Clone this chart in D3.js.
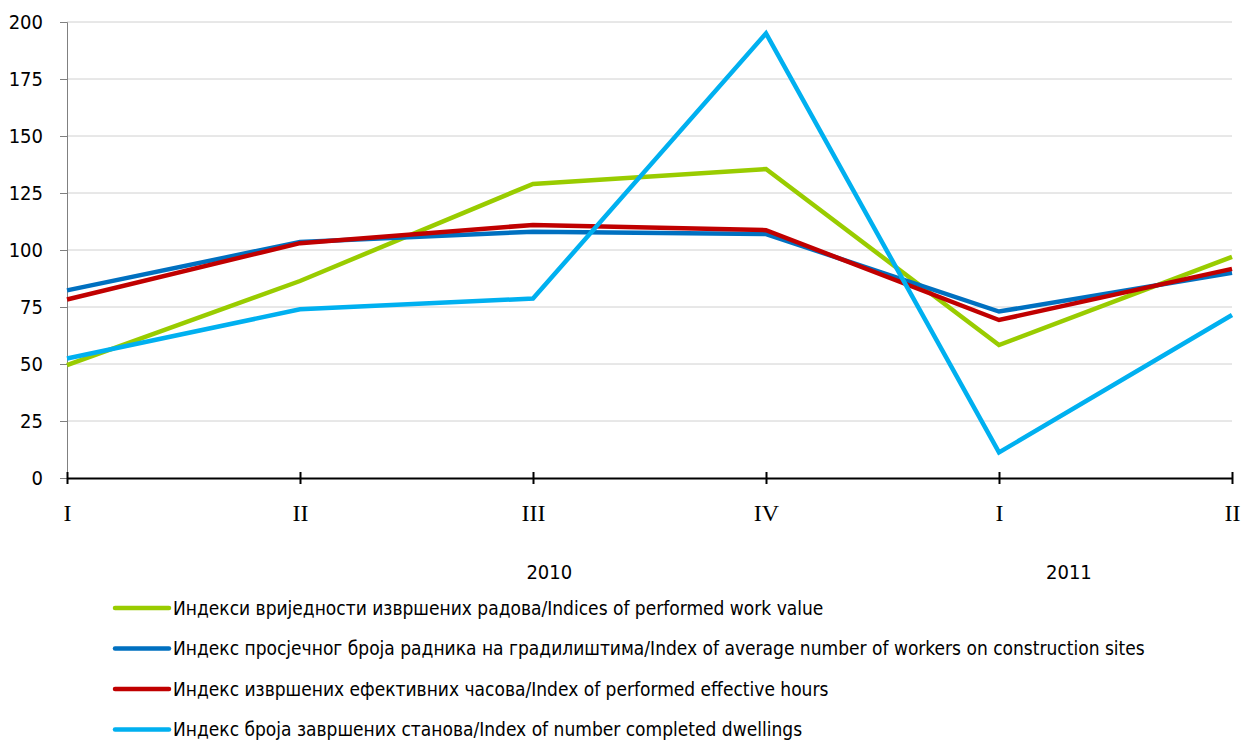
<!DOCTYPE html>
<html><head><meta charset="utf-8">
<script src="https://cdn.jsdelivr.net/npm/d3@7"></script>
<style>body{margin:0;background:#fff}svg{display:block}text{font-family:"DejaVu Sans Condensed","DejaVu Sans",sans-serif;fill:#000}</style>
</head><body>
<svg id="c" width="1246" height="740"></svg>
<script>
const categories = ["I","II","III","IV","I","II"];
const yearLabels = ["2010","2011"];
const yearPos = [2.07, 4.3];
const yTicks = [0,25,50,75,100,125,150,175,200];
const workValue = [49.5, 86.4, 129, 135.5, 58.3, 97];
const workers = [82.3, 103.5, 108, 107, 73, 90];
const hours = [78.3, 103, 111, 108.7, 69.3, 91.7];
const dwellings = [52.4, 74, 78.7, 195, 11.2, 71.5];
const seriesNames = [
 "Индекси вриједности извршених радова/Indices of performed work value",
 "Индекс просјечног броја радника на градилиштима/Index of average number of workers on construction sites",
 "Индекс извршених ефективних часова/Index of performed effective hours",
 "Индекс броја завршених станова/Index of number completed dwellings"
];
const colors = ["#99cc00","#0070c0","#c00000","#00b0f0"];
const series = [workValue, workers, hours, dwellings];

const svg = d3.select("#c");
const L=67, R=1232, T=22, B=478;
const x = d3.scalePoint().domain(d3.range(categories.length)).range([L,R]);
const xl = d3.scaleLinear().domain([0,categories.length-1]).range([L,R]);
const y = d3.scaleLinear().domain([0,200]).range([B,T]);

// gridlines
svg.append("g").selectAll("line").data(yTicks.filter(d=>d>0)).join("line")
 .attr("x1",L).attr("x2",R).attr("y1",d=>y(d)).attr("y2",d=>y(d))
 .attr("stroke","#d0d0d0").attr("stroke-width",1);

// y axis
const ya = svg.append("g").attr("transform",`translate(${L},0)`)
 .call(d3.axisLeft(y).tickValues(yTicks).tickSize(7).tickPadding(17));
ya.attr("font-family",null).attr("font-size",null);
ya.select(".domain").attr("stroke","#808080");
ya.selectAll(".tick line").attr("stroke","#808080");
ya.selectAll("text").style("font-size","20px");

// x axis
const xa = svg.append("g").attr("transform",`translate(0,${B})`)
 .call(d3.axisBottom(x).tickFormat(i=>categories[i]).tickSize(0).tickPadding(0));
xa.attr("font-family",null).attr("font-size",null);
xa.select(".domain").attr("stroke","#000").attr("stroke-width",2);
xa.selectAll(".tick line").remove();
xa.selectAll(".tick").append("line").attr("y1",-6).attr("y2",6).attr("stroke","#000").attr("stroke-width",2);
xa.selectAll("text").attr("y",43).attr("dy","0").style("font-size","24px")
 .style("font-family","'Liberation Serif','Times New Roman',serif");

// year labels
svg.append("g").selectAll("text").data(yearLabels).join("text")
 .attr("x",(d,i)=>xl(yearPos[i])).attr("y",579)
 .attr("text-anchor","middle").style("font-size","20px")
 .text(d=>d);

// lines
const line = d3.line().x((d,i)=>x(i)).y(d=>y(d));
svg.append("g").selectAll("path").data(series).join("path")
 .attr("d",line).attr("fill","none").attr("stroke",(d,i)=>colors[i])
 .attr("stroke-width",4.5).attr("stroke-linejoin","miter");

// legend
const lg = svg.append("g").selectAll("g").data(seriesNames).join("g")
 .attr("transform",(d,i)=>`translate(115,${608+i*40.5})`);
lg.append("line").attr("x1",0).attr("x2",54).attr("stroke",(d,i)=>colors[i]).attr("stroke-width",4.5).attr("stroke-linecap","round");
lg.append("text").attr("x",58).attr("y",0).attr("dy","0.35em").style("font-size","19px").text(d=>d);
</script>
</body></html>
